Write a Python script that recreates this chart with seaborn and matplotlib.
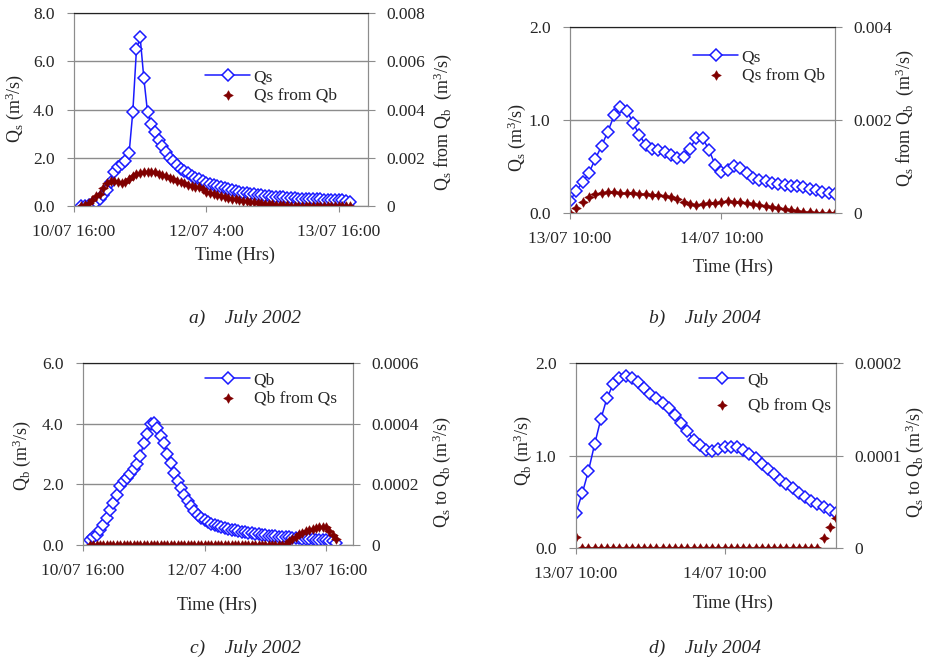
import matplotlib
matplotlib.use("Agg")
import matplotlib.pyplot as plt
import seaborn as sns

# July 2002 event: hours after 10/07 16:00
hours_2002 = list(range(2, 76))
qs_2002 = [0.02, 0.0, 0.05, 0.1, 0.18, 0.3, 0.45, 0.65, 1.0, 1.4,
           1.6, 1.75, 1.88, 2.2, 3.9, 6.5, 7.0, 5.3, 3.9, 3.4,
           3.05, 2.75, 2.5, 2.25, 2.0, 1.85, 1.68, 1.55, 1.45, 1.35,
           1.25, 1.18, 1.1, 1.03, 0.97, 0.92, 0.87, 0.83, 0.78, 0.73,
           0.69, 0.65, 0.61, 0.58, 0.55, 0.52, 0.5, 0.48, 0.46, 0.44,
           0.42, 0.41, 0.39, 0.38, 0.37, 0.36, 0.35, 0.33, 0.32, 0.31,
           0.3, 0.3, 0.29, 0.28, 0.28, 0.27, 0.26, 0.26, 0.25, 0.24,
           0.23, 0.23, 0.22, 0.18]
qs_from_qb_2002 = [0.0, 0.00005, 0.00012, 0.00025, 0.0004, 0.0005, 0.00075, 0.00095, 0.00103, 0.00104,
                   0.00098, 0.00095, 0.001, 0.00112, 0.00125, 0.00132, 0.00138, 0.00142, 0.00143, 0.00142,
                   0.00139, 0.00134, 0.0013, 0.00124, 0.00118, 0.00111, 0.00105, 0.001, 0.00094, 0.00088,
                   0.00084, 0.0008, 0.00078, 0.00072, 0.00058, 0.00054, 0.0005, 0.00046, 0.00042, 0.00038,
                   0.00034, 0.0003, 0.00027, 0.00024, 0.00021, 0.00019, 0.00017, 0.00015, 0.00013, 0.00011,
                   0.00009, 0.00008, 0.00007, 0.00005, 0.00004, 0.00004, 0.00003, 0.00002, 0.00002, 0.00001,
                   0.00001, 0.00001, 0.00001, 0.00001, 0.00001, 0.00001, 0.00001, 0.00001, 0.00001, 0.00001,
                   0.00001, 0.00001, 0.00001, 0.00001]
qb_2002 = [0.18, 0.25, 0.33, 0.49, 0.65, 0.88, 1.15, 1.38, 1.65, 1.93,
           2.12, 2.22, 2.35, 2.52, 2.68, 2.95, 3.35, 3.65, 3.98, 4.02,
           3.85, 3.6, 3.35, 3.0, 2.7, 2.38, 2.1, 1.88, 1.65, 1.45,
           1.28, 1.12, 1.0, 0.9, 0.82, 0.75, 0.7, 0.66, 0.62, 0.59,
           0.56, 0.53, 0.5, 0.48, 0.46, 0.44, 0.42, 0.4, 0.38, 0.36,
           0.35, 0.33, 0.32, 0.31, 0.3, 0.29, 0.28, 0.27, 0.26, 0.25,
           0.24, 0.23, 0.22, 0.21, 0.2, 0.2, 0.19, 0.18, 0.17, 0.16,
           0.15, 0.14, 0.13, 0.08]
qb_from_qs_2002 = [0.0] * 58 + [0.000003, 0.000012, 0.00002, 0.000028, 0.000035, 0.00004, 0.000045, 0.00005,
                                0.000053, 0.000056, 0.000059, 0.00006, 0.000058, 0.000045, 0.000033, 0.00002]

# July 2004 event: hours after 13/07 10:00
hours_2004 = list(range(0, 43))
qs_2004 = [0.13, 0.24, 0.33, 0.43, 0.58, 0.72, 0.875, 1.05, 1.14, 1.10,
           0.97, 0.84, 0.73, 0.69, 0.68, 0.66, 0.62, 0.59, 0.60, 0.69,
           0.81, 0.81, 0.68, 0.52, 0.44, 0.46, 0.50, 0.48, 0.43, 0.38,
           0.36, 0.34, 0.32, 0.31, 0.30, 0.29, 0.285, 0.275, 0.26, 0.245,
           0.23, 0.22, 0.20]
qs_from_qb_2004 = [0.0, 0.0001, 0.00024, 0.00034, 0.0004, 0.00044, 0.00046, 0.00046, 0.00044, 0.00042,
                   0.00042, 0.0004, 0.0004, 0.00038, 0.00038, 0.00036, 0.00034, 0.0003, 0.00024, 0.0002,
                   0.00018, 0.0002, 0.00022, 0.00022, 0.00024, 0.00025, 0.00024, 0.00024, 0.00022, 0.0002,
                   0.00017, 0.00014, 0.00012, 0.0001, 0.00008, 0.00006, 0.00004, 0.00002, 0.000014, 0.000008,
                   0.0, 0.0, 0.0]
qb_2004 = [0.38, 0.59, 0.83, 1.12, 1.39, 1.62, 1.77, 1.84, 1.86, 1.84,
           1.80, 1.73, 1.67, 1.62, 1.57, 1.51, 1.44, 1.35, 1.26, 1.17,
           1.11, 1.06, 1.05, 1.07, 1.09, 1.09, 1.09, 1.06, 1.02, 0.97,
           0.91, 0.85, 0.80, 0.74, 0.69, 0.65, 0.60, 0.55, 0.51, 0.48,
           0.44, 0.41, 0.38]
qb_from_qs_2004 = [0.000012] + [0.0] * 39 + [0.000011, 0.000023, 0.000032]

xticks_2002 = [0, 36, 72]
xlabels_2002 = ["10/07 16:00", "12/07 4:00", "13/07 16:00"]
xticks_2004 = [0, 24]
xlabels_2004 = ["13/07 10:00", "14/07 10:00"]

BLUE = "#1a1aff"
RED = "#800000"
GRID = "#8c8c8c"
W, H = 930, 668

sns.set_style("white")
plt.rcParams["font.family"] = ["Liberation Serif", "DejaVu Serif"]
plt.rcParams["mathtext.fontset"] = "custom"
plt.rcParams["mathtext.rm"] = "Liberation Serif"
plt.rcParams["mathtext.it"] = "Liberation Serif:italic"

fig = plt.figure(figsize=(W / 100, H / 100), dpi=100)


def px_rect(left, top, right, bottom):
    return [left / W, 1 - bottom / H, (right - left) / W, (bottom - top) / H]


def draw_panel(box, hours, main, extra, names, xlim, xticks, xlabels,
               yticks, yticks2, ylabels2, ylab, ylab2, lab_xy, leg_xy, leg_space, caption):
    ax = fig.add_axes(px_rect(*box))
    ax2 = ax.twinx()
    sns.lineplot(x=hours, y=main, ax=ax, color=BLUE, marker="D", markersize=5.8,
                 markerfacecolor="white", markeredgecolor=BLUE, markeredgewidth=1.1,
                 linewidth=1.1, label=names[0])
    sns.scatterplot(x=hours, y=extra, ax=ax2, color=RED, marker=(4, 1, 0), s=48,
                    linewidth=0.4, edgecolor=RED, label=names[1])
    for a in (ax, ax2):
        if a.get_legend() is not None:
            a.get_legend().remove()
        a.set_xlabel("")
        a.set_ylabel("")
        for side in ("left", "right", "bottom"):
            a.spines[side].set_color(GRID)
        a.spines["top"].set_color("#222222")

    ax.set_xlim(*xlim)
    ax.set_ylim(yticks[0], yticks[-1])
    ax2.set_ylim(yticks2[0], yticks2[-1])
    ax.set_xticks(xticks)
    ax.set_xticklabels(xlabels)
    ax.set_yticks(yticks)
    ax.set_yticklabels([f"{v:.1f}" for v in yticks])
    ax2.set_yticks(yticks2)
    ax2.set_yticklabels(ylabels2)
    ax.grid(axis="y", color=GRID, linewidth=1)
    ax.grid(axis="x", visible=False)
    ax2.grid(False)
    ax.tick_params(axis="y", direction="out", length=5, color=GRID, pad=9, labelsize=12.5, left=True)
    ax.tick_params(axis="x", direction="out", length=4, color=GRID, pad=9, labelsize=12.5, bottom=True)
    ax2.tick_params(axis="y", direction="out", length=5, color=GRID, pad=8, labelsize=12.5, right=True)

    h1, l1 = ax.get_legend_handles_labels()
    h2, l2 = ax2.get_legend_handles_labels()
    ax2.legend(h1 + h2, l1 + l2, loc="upper left",
               bbox_to_anchor=(leg_xy[0] / W, 1 - leg_xy[1] / H), bbox_transform=fig.transFigure,
               frameon=False, borderpad=0, borderaxespad=0, handlelength=2.6,
               handletextpad=0.2, labelspacing=leg_space, fontsize=12.5)

    (lx, ly), (rx, ry), (tx, ty), (cx, cy) = lab_xy
    fig.text(lx / W, 1 - ly / H, ylab, rotation=90, ha="center", va="center", fontsize=13)
    fig.text(rx / W, 1 - ry / H, ylab2, rotation=90, ha="center", va="center", fontsize=13)
    fig.text(tx / W, 1 - ty / H, "Time (Hrs)", ha="center", va="center", fontsize=13)
    fig.text(cx / W, 1 - cy / H, caption, ha="center", va="center", fontsize=14, style="italic")


qs_lab = r"Q$_\mathrm{s}$ (m$^\mathrm{3}$/s)"
qb_lab = r"Q$_\mathrm{b}$ (m$^\mathrm{3}$/s)"
qs_from_lab = r"Q$_\mathrm{s}$ from Q$_\mathrm{b}$  (m$^\mathrm{3}$/s)"
qs_to_lab = r"Q$_\mathrm{s}$ to Q$_\mathrm{b}$ (m$^\mathrm{3}$/s)"

# a) July 2002, Qs
draw_panel((74, 13, 368, 206), hours_2002, qs_2002, qs_from_qb_2002, ["Qs", "Qs from Qb"],
           (0, 80), xticks_2002, xlabels_2002,
           [0, 2, 4, 6, 8], [0, 0.002, 0.004, 0.006, 0.008],
           ["0", "0.002", "0.004", "0.006", "0.008"], qs_lab, qs_from_lab,
           [(15, 108), (443, 122), (235, 255), (245, 318)], (205, 69), 0.15, "a)    July 2002")

# b) July 2004, Qs
draw_panel((570, 27, 835, 213), hours_2004, qs_2004, qs_from_qb_2004, ["Qs", "Qs from Qb"],
           (0, 42), xticks_2004, xlabels_2004,
           [0, 1, 2], [0, 0.002, 0.004], ["0", "0.002", "0.004"], qs_lab, qs_from_lab,
           [(517, 137), (905, 118), (733, 267), (705, 318)], (693, 49), 0.15, "b)    July 2004")

# c) July 2002, Qb
draw_panel((83, 363, 353, 545), hours_2002, qb_2002, qb_from_qs_2002, ["Qb", "Qb from Qs"],
           (0, 80), xticks_2002, xlabels_2002,
           [0, 2, 4, 6], [0, 0.0002, 0.0004, 0.0006], ["0", "0.0002", "0.0004", "0.0006"],
           qb_lab, qs_to_lab,
           [(22, 456), (442, 472), (217, 605), (245, 648)], (205, 372), 0.15, "c)    July 2002")

# d) July 2004, Qb
draw_panel((576, 363, 836, 548), hours_2004, qb_2004, qb_from_qs_2004, ["Qb", "Qb from Qs"],
           (0, 42), xticks_2004, xlabels_2004,
           [0, 1, 2], [0, 0.0001, 0.0002], ["0", "0.0001", "0.0002"], qb_lab, qs_to_lab,
           [(523, 451), (915, 462), (733, 603), (705, 648)], (699, 372), 0.55, "d)    July 2004")

fig.savefig("out.png", dpi=100)
